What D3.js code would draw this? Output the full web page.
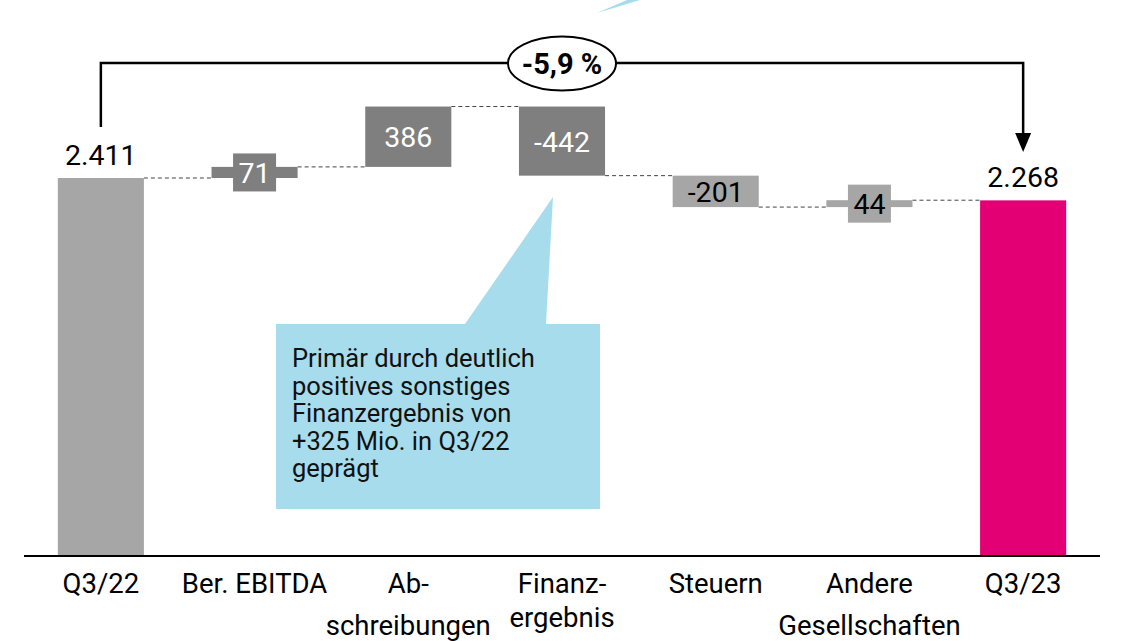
<!DOCTYPE html>
<html>
<head>
<meta charset="utf-8">
<script src="https://cdn.jsdelivr.net/npm/d3@7"></script>
<style>
  html, body { margin: 0; padding: 0; background: #fff; }
  svg { display: block; font-family: Roboto, "Noto Sans", sans-serif; }
</style>
</head>
<body>
<svg id="chart" width="1132" height="641"></svg>
<script>
// ---- data ----
const categories = ["Q3/22", "Ber. EBITDA", "Abschreibungen", "Finanzergebnis", "Steuern", "Andere Gesellschaften", "Q3/23"];
const categoryLines = [["Q3/22"], ["Ber. EBITDA"], ["Ab-", "schreibungen"], ["Finanz-", "ergebnis"], ["Steuern"], ["Andere", "Gesellschaften"], ["Q3/23"]];
const values = [2411, 71, 386, -442, -201, 44, 2268];
const kinds = ["total", "delta", "delta", "delta", "delta", "delta", "total"];
const valueLabels = ["2.411", "71", "386", "-442", "-201", "44", "2.268"];
const barColors = ["#a6a6a6", "#7f7f7f", "#7f7f7f", "#7f7f7f", "#a6a6a6", "#a6a6a6", "#e20074"];
const labelColors = ["#000", "#fff", "#fff", "#fff", "#000", "#000", "#000"];
const changeLabel = "-5,9 %";
const calloutLines = ["Primär durch deutlich", "positives sonstiges", "Finanzergebnis von", "+325 Mio. in Q3/22", "geprägt"];

// ---- layout ----
const svg = d3.select("#chart");
const x = d3.scaleBand().domain(categories).range([24, 1100]).paddingInner(0.44).paddingOuter(0.22);
const y = d3.scaleLinear().domain([0, 2411]).range([555, 178]);

// compute waterfall segments
let running = 0;
const segs = categories.map((c, i) => {
  let start, end;
  if (kinds[i] === "total") { start = 0; end = values[i]; running = values[i]; }
  else { start = running; end = running + values[i]; running = end; }
  return { c, i, start, end, lo: Math.min(start, end), hi: Math.max(start, end) };
});

// connectors (dashed)
for (let i = 0; i < segs.length - 1; i++) {
  const level = segs[i].end;
  svg.append("line")
    .attr("x1", x(segs[i].c) + x.bandwidth()).attr("x2", x(segs[i + 1].c))
    .attr("y1", y(level)).attr("y2", y(level))
    .attr("stroke", "#444").attr("stroke-width", 1).attr("stroke-dasharray", "4,3");
}

// callout (drawn beneath bars)
const cb = { x0: 276, x1: 600, y0: 324, y1: 509 };
const tip = [553, 197];
svg.append("path")
  .attr("d", `M${cb.x0},${cb.y0} L465,${cb.y0} L${tip[0]},${tip[1]} L546,${cb.y0} L${cb.x1},${cb.y0} L${cb.x1},${cb.y1} L${cb.x0},${cb.y1} Z`)
  .attr("fill", "#a6dcec");
svg.append("path").attr("d", "M597,13 L627,0 L640,0 Z").attr("fill", "#a6dcec");
const ct = svg.append("text").attr("font-size", 25.5).attr("fill", "#111");
calloutLines.forEach((l, k) => ct.append("tspan").attr("x", 292).attr("y", 367 + k * 27.5).text(l));

// bars
svg.selectAll("rect.bar").data(segs).enter().append("rect")
  .attr("class", "bar")
  .attr("x", d => x(d.c)).attr("width", x.bandwidth())
  .attr("y", d => y(d.hi)).attr("height", d => y(d.lo) - y(d.hi))
  .attr("fill", d => barColors[d.i]);

// label boxes for thin delta bars
segs.forEach(d => {
  if (kinds[d.i] !== "delta") return;
  const h = y(d.lo) - y(d.hi);
  const cy = (y(d.lo) + y(d.hi)) / 2;
  const cx = x(d.c) + x.bandwidth() / 2;
  if (h < 28) {
    svg.append("rect").attr("x", cx - 21.5).attr("y", cy - 19).attr("width", 43).attr("height", 38)
      .attr("fill", barColors[d.i]);
  }
  svg.append("text").attr("x", cx).attr("y", cy + 10.5).attr("text-anchor", "middle")
    .attr("font-size", 28.5).attr("fill", labelColors[d.i]).text(valueLabels[d.i]);
});

// total labels
segs.forEach(d => {
  if (kinds[d.i] !== "total") return;
  svg.append("text").attr("x", x(d.c) + x.bandwidth() / 2).attr("y", y(d.hi) - 13)
    .attr("text-anchor", "middle").attr("font-size", 28.5).attr("fill", "#000").text(valueLabels[d.i]);
});

// baseline axis
svg.append("line").attr("x1", 24).attr("x2", 1100).attr("y1", y(0) + 1).attr("y2", y(0) + 1)
  .attr("stroke", "#000").attr("stroke-width", 2);

// category labels
const secondLineY = { "Abschreibungen": 635, "Finanzergebnis": 627, "Andere Gesellschaften": 635 };
categories.forEach((c, i) => {
  const cx = x(c) + x.bandwidth() / 2;
  const t = svg.append("text").attr("text-anchor", "middle").attr("font-size", 27.5).attr("fill", "#000");
  categoryLines[i].forEach((l, k) => {
    t.append("tspan").attr("x", cx).attr("y", k === 0 ? 593 : secondLineY[c]).text(l);
  });
});

// bracket with change
const xl = x(categories[0]) + x.bandwidth() / 2;
const xr = x(categories[6]) + x.bandwidth() / 2;
const by = 63;
svg.append("path")
  .attr("d", `M${xl},${y(2411) - 51} L${xl},${by} L${xr},${by} L${xr},${134}`)
  .attr("fill", "none").attr("stroke", "#000").attr("stroke-width", 2.5);
svg.append("path").attr("d", `M${xr - 8},${133} L${xr + 8},${133} L${xr},${152} Z`).attr("fill", "#000");
const ecx = (x(categories[3]) + x.bandwidth() / 2);
svg.append("ellipse").attr("cx", ecx).attr("cy", by + 0.5).attr("rx", 54).attr("ry", 27)
  .attr("fill", "#fff").attr("stroke", "#000").attr("stroke-width", 2);
svg.append("text").attr("x", ecx).attr("y", by + 10.5).attr("text-anchor", "middle")
  .attr("font-size", 29).attr("font-weight", "bold").attr("fill", "#000").text(changeLabel);
</script>
</body>
</html>
